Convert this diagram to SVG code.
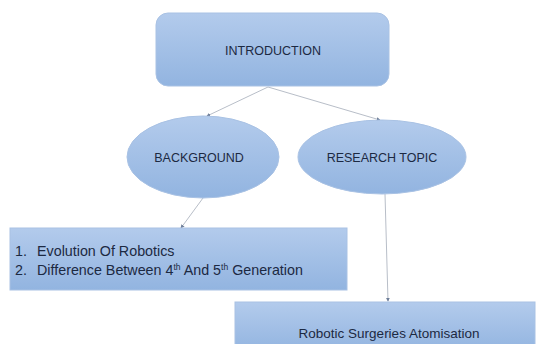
<svg xmlns="http://www.w3.org/2000/svg" width="536" height="344" viewBox="0 0 536 344">
<defs>
<linearGradient id="g" x1="0" y1="0" x2="0" y2="1">
<stop offset="0" stop-color="#b3cbec"/>
<stop offset="1" stop-color="#92b4e0"/>
</linearGradient>
<marker id="a" viewBox="0 0 6 6" refX="5" refY="3" markerWidth="4" markerHeight="4" orient="auto">
<path d="M0,0 L6,3 L0,6 z" fill="#6f7f99"/>
</marker>
<style>
.n{fill:url(#g);stroke:#a9c2e4;stroke-width:1}
.t{font-family:"Liberation Sans","Open Sans",sans-serif;fill:#1c2942;font-size:13.5px}
.h{font-size:12.5px}
.l{font-size:14.3px}
.c{stroke:#b8bec8;stroke-width:1;fill:none;marker-end:url(#a)}
</style>
</defs>
<rect width="536" height="344" fill="#ffffff"/>
<g id="connectors">
<line class="c" x1="268" y1="87" x2="207" y2="116"/>
<line class="c" x1="268" y1="87" x2="380" y2="120"/>
<line class="c" x1="203" y1="198" x2="181" y2="228"/>
<line class="c" x1="385" y1="194" x2="388" y2="301"/>
</g>
<g id="introduction">
<rect class="n" x="156" y="13" width="233" height="73" rx="12"/>
<text class="t h" x="273" y="55" text-anchor="middle">INTRODUCTION</text>
</g>
<g id="background">
<ellipse class="n" cx="203" cy="157" rx="76" ry="41"/>
<text class="t h" x="199" y="162" text-anchor="middle">BACKGROUND</text>
</g>
<g id="research-topic">
<ellipse class="n" cx="382" cy="157" rx="84" ry="37"/>
<text class="t h" x="382" y="162" text-anchor="middle">RESEARCH TOPIC</text>
</g>
<g id="list">
<rect class="n" x="10" y="228" width="337" height="62"/>
<text class="t l" x="15" y="256">1.</text>
<text class="t l" x="37" y="256">Evolution Of Robotics</text>
<text class="t l" x="15" y="275">2.</text>
<text class="t l" x="37" y="275">Difference Between 4<tspan font-size="8.5" dy="-5">th</tspan><tspan dy="5"> And 5</tspan><tspan font-size="8.5" dy="-5">th</tspan><tspan dy="5"> Generation</tspan></text>
</g>
<g id="robotic-surgeries">
<rect class="n" x="235" y="302" width="300" height="50"/>
<text class="t" x="389" y="338" text-anchor="middle">Robotic Surgeries Atomisation</text>
</g>
</svg>
